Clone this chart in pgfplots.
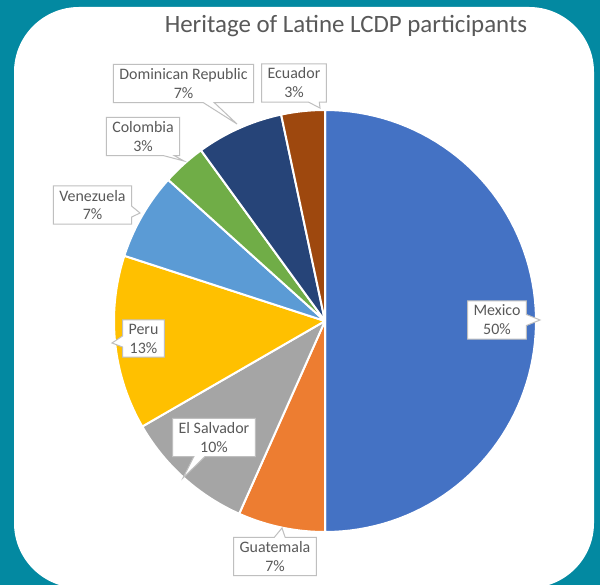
\documentclass[border=0pt]{standalone}
\usepackage{pgfplots}
\pgfplotsset{compat=1.18}
\usepackage{fontspec}
\setmainfont{Carlito}
\usetikzlibrary{shapes.callouts}

\definecolor{bgteal}{RGB}{3,137,161}
\definecolor{txtgray}{HTML}{595959}
\definecolor{boxgray}{HTML}{BFBFBF}
\definecolor{cMexico}{HTML}{4472C4}
\definecolor{cGuatemala}{HTML}{ED7D31}
\definecolor{cSalvador}{HTML}{A5A5A5}
\definecolor{cPeru}{HTML}{FFC000}
\definecolor{cVenezuela}{HTML}{5B9BD5}
\definecolor{cColombia}{HTML}{70AD47}
\definecolor{cDominican}{HTML}{264478}
\definecolor{cEcuador}{HTML}{9E480E}

\tikzset{lbl/.style={rectangle callout, draw=boxgray, fill=white, line width=1bp,
      text=txtgray, align=center, inner xsep=6bp, inner ysep=4bp,
      callout pointer width=11bp,
      font=\fontsize{16}{19}\selectfont}}

% participants per country (30 in all), clockwise from 12 o'clock
\def\total{30}
\gdef\cum{0}
\newcommand\slice[2]{%
  \pgfmathsetmacro\sa{90-360*\cum/\total}%
  \pgfmathsetmacro\cumnew{\cum+#2}%
  \pgfmathsetmacro\sb{90-360*\cumnew/\total}%
  \xdef\cum{\cumnew}%
  \edef\doplot{\noexpand\addplot[fill=#1, draw=white, line width=2bp,
      line join=round, domain=\sb:\sa, samples=80, variable=\noexpand\t]
      ({325+211*cos(\noexpand\t)},{264+211*sin(\noexpand\t)})
      -- (axis cs:325,264) -- cycle;}%
  \doplot
}

\begin{document}
\begin{tikzpicture}
\begin{axis}[
    width=600bp, height=585bp, scale only axis,
    xmin=0, xmax=600, ymin=0, ymax=585,
    hide axis, clip=false,
  ]
  \fill[bgteal] (axis cs:0,0) rectangle (axis cs:600,585);
  \fill[white, rounded corners=65bp] (axis cs:14,-3) rectangle (axis cs:594,578);

  \node[text=txtgray, font=\fontsize{25}{28}\selectfont, anchor=base]
    at (axis cs:346,552) {Heritage of Latine LCDP participants};

  \slice{cMexico}{15}
  \slice{cGuatemala}{2}
  \slice{cSalvador}{3}
  \slice{cPeru}{4}
  \slice{cVenezuela}{2}
  \slice{cColombia}{1}
  \slice{cDominican}{2}
  \slice{cEcuador}{1}

  \node[lbl, callout absolute pointer={(axis cs:540,265)}] at (axis cs:497,265) {Mexico\\50\%};
  \node[lbl, callout absolute pointer={(axis cs:282,57)}] at (axis cs:275,28.5) {Guatemala\\7\%};
  \node[lbl, callout absolute pointer={(axis cs:183,107)}] at (axis cs:214,147.5) {El Salvador\\10\%};
  \node[lbl, callout absolute pointer={(axis cs:112,242)}] at (axis cs:143.5,246.5) {Peru\\13\%};
  \node[lbl, callout absolute pointer={(axis cs:140,372)}] at (axis cs:92.5,380) {Venezuela\\7\%};
  \node[lbl, callout absolute pointer={(axis cs:184,424)}] at (axis cs:143,448.5) {Colombia\\3\%};
  \node[lbl, callout absolute pointer={(axis cs:237,461)}] at (axis cs:183.5,501.5) {Dominican Republic\\7\%};
  \node[lbl, callout absolute pointer={(axis cs:320,477)}] at (axis cs:294,502) {Ecuador\\3\%};
\end{axis}
\pgfresetboundingbox
\path (current axis.south west) rectangle (current axis.north east);
\end{tikzpicture}
\end{document}
